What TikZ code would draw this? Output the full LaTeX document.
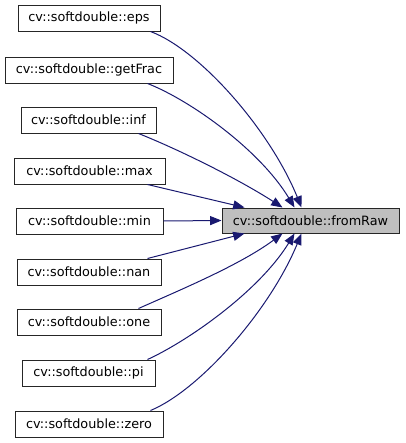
\documentclass[tikz,border=0pt]{standalone}
\usepackage{fontspec}
\setmainfont{DejaVu Sans}
\usetikzlibrary{arrows.meta,calc}
\definecolor{edgeblue}{HTML}{191970}
\definecolor{boxgray}{HTML}{BFBFBF}
\begin{document}
\begin{tikzpicture}[x=0.75pt,y=-0.75pt,
  fbox/.style={draw=black!85,line width=0.75pt,inner sep=0pt,minimum height=19.5pt,font=\fontsize{9.6pt}{11.5pt}\selectfont,fill=white},
  conn/.style={draw=edgeblue,line width=0.75pt,-{Triangle[length=8.5pt,width=6.75pt]}}]
\useasboundingbox (0,0) rectangle (405,443);
\node[fbox,minimum width=106.5pt] (eps) at (89,18) {cv::softdouble::eps};
\node[fbox,minimum width=126pt] (getFrac) at (89,70) {cv::softdouble::getFrac};
\node[fbox,minimum width=101.25pt] (inf) at (88.5,120) {cv::softdouble::inf};
\node[fbox,minimum width=113.25pt] (max) at (89.5,171) {cv::softdouble::max};
\node[fbox,minimum width=110.25pt] (min) at (89.5,221) {cv::softdouble::min};
\node[fbox,minimum width=108pt] (nan) at (89,272) {cv::softdouble::nan};
\node[fbox,minimum width=108pt] (one) at (89,322) {cv::softdouble::one};
\node[fbox,minimum width=99.75pt] (pi) at (88.5,373) {cv::softdouble::pi};
\node[fbox,minimum width=111pt] (zero) at (89,424) {cv::softdouble::zero};
\node[fbox,fill=boxgray,minimum width=132.75pt,minimum height=18.75pt] (fromRaw) at (310.5,220.5) {cv::softdouble::fromRaw};
\draw[conn] ($(eps.south east)+(-10,0)$) .. controls (200,50) and (270,130) .. ($(fromRaw.north west)+(80,0)$);
\draw[conn] ($(getFrac.south east)+(-26,0)$) .. controls (190,100) and (260,150) .. ($(fromRaw.north west)+(73,0)$);
\draw[conn] ($(inf.south east)+(-18,0)$) .. controls (180,150) and (240,180) .. ($(fromRaw.north west)+(61,0)$);
\draw[conn] ($(max.south east)+(-18,0)$) -- ($(fromRaw.north west)+(23,0)$);
\draw[conn] (min.east) -- (fromRaw.west);
\draw[conn] ($(nan.north east)+(-14,0)$) -- ($(fromRaw.south west)+(23,0)$);
\draw[conn] ($(one.north east)+(-23,0)$) .. controls (180,290) and (240,265) .. ($(fromRaw.south west)+(61,0)$);
\draw[conn] ($(pi.north east)+(-8,0)$) .. controls (190,340) and (260,290) .. ($(fromRaw.south west)+(73,0)$);
\draw[conn] ($(zero.north east)+(-13,0)$) .. controls (200,390) and (270,310) .. ($(fromRaw.south west)+(80,0)$);
\end{tikzpicture}
\end{document}
